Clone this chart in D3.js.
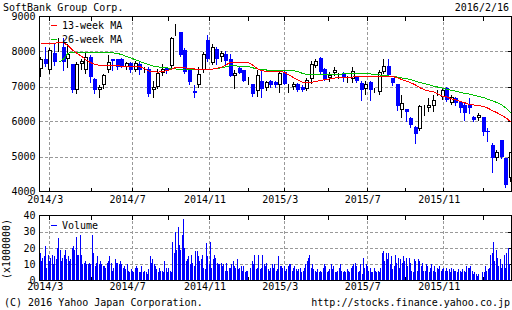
<!DOCTYPE html>
<html>
<head>
<meta charset="utf-8">
<script src="https://cdn.jsdelivr.net/npm/d3@7"></script>
<style>
  body { margin: 0; background: #fff; }
  svg { display: block; }
  text { font-family: "DejaVu Sans Mono", monospace; font-size: 10px; fill: #000; }
</style>
</head>
<body>
<div id="chart"></div>
<script>
// Weekly candles, 2014/2/17 .. 2016/2/15
const open = [7505,7790,7460,7950,8180,8120,7790,7650,6890,7650, 7460,7840,7220,6900,7030,7460,7790,7790,7790,7550,
  7670,7460,7650,7460,7500,6900,7000,7390,7520,7580, 8700,8550,8030,7500,6870,7050,7460,8340,7680,8080,
  7840,7930,7790,7290,7520,7460,7190,7080,6870,7170, 6960,7170,7120,7030,7410,7030,6980,7080,7000,6930,
  7220,7600,7810,7500,7250,7380,7300,7380,7240,7220, 7270,7100,6930,7120,6880,6840,7410,7600,7250,7080,
  6330,6350,6100,5840,5790,6420,6380,6430,6850,6700, 6960,6540,6670,6570,6480,6480,6140,6100,6140,5720,
  5330,4950,5480,4950,4380];
const high = [7840,8120,8100,8220,8380,8400,8210,7650,7700,7800, 7950,7900,7250,7050,7350,7890,7800,7800,7820,7700,
  7700,7720,7740,7550,7550,7170,7500,7650,7560,8410, 8800,8570,8100,7500,7030,7550,7980,8460,8210,8120,
  8020,8020,7930,7460,7560,7480,7270,7080,7460,7460, 7170,7200,7170,7410,7430,7080,7120,7100,7050,7240,
  7740,7790,7850,7540,7410,7560,7380,7410,7310,7560, 7310,7170,7170,7170,6960,7460,7790,7790,7250,7080,
  6760,6350,6120,5860,6480,6480,6670,6760,6910,6960, 6980,6760,6700,6600,6520,6670,6160,6240,6140,5810,
  5380,5200,5480,4950,5140];
const low = [7314,7600,7400,7620,8020,7460,7560,6840,6800,7500, 7400,7120,6820,6700,6950,7420,7460,7500,7560,7500,
  7420,7430,7360,7420,6740,6700,6950,7320,7400,7550, 8460,7880,7380,7070,6700,6980,7410,7740,7650,7650,
  7740,7650,7290,6960,7390,7170,7080,6740,6740,6700, 6900,7000,6980,6830,7060,6830,6940,6880,6880,6900,
  7100,7560,7380,7180,7170,7340,7250,7170,7130,7130, 7130,6620,6790,6620,6840,6790,7400,7310,7030,6340,
  6140,6000,5850,5380,5760,6190,6290,6290,6760,6650, 6580,6500,6480,6270,6050,6240,6000,6030,5620,5430,
  4570,4900,4950,4140,4290];
const close = [7790,7650,8030,7710,8210,7700,7930,6890,7650,7740, 7840,7270,6890,6980,7340,7700,7740,7550,7600,7670,
  7460,7670,7460,7500,6790,7000,7380,7500,7430,8380, 8720,7890,7410,7120,6810,7360,7930,7790,8120,7790,
  7960,7740,7310,7380,7390,7170,7200,6790,7340,6930, 7120,7030,7030,7380,7080,7040,7080,6900,6900,7200,
  7650,7740,7410,7220,7340,7460,7320,7250,7260,7440, 7170,6890,7080,6890,6900,7410,7600,7340,7100,6430,
  6520,6260,5900,5640,6430,6440,6480,6620,6870,6900, 6620,6710,6520,6380,6240,6380,6050,6190,5710,5700,
  4950,5140,5000,4190,5140];

// moving averages, one value per week
const ma13 = [8220,8220,8220,8240,8250,8250,8170,8040,7940,7860, 7760,7680,7630,7600,7600,7600,7600,7590,7580,7580,
  7580,7580,7560,7500,7440,7420,7410,7430,7460,7500, 7550,7540,7530,7510,7500,7500,7500,7500,7500,7520,
  7550,7620,7690,7700,7700,7700,7680,7600,7500,7450, 7430,7430,7430,7430,7400,7320,7250,7180,7120,7120,
  7120,7150,7170,7200,7220,7240,7270,7270,7270,7270, 7280,7290,7290,7290,7290,7290,7290,7290,7280,7250,
  7190,7150,7100,7040,6960,6900,6870,6850,6780,6720, 6700,6640,6610,6570,6530,6480,6470,6450,6430,6380,
  6310,6250,6180,6100,6000];
const ma26 = [null,null,null,null,7700,7780,7950,7980,7980,7980, 7980,7980,7980,7980,7980,7980,7960,7940,7910,7850,
  7810,7760,7710,7660,7620,7580,7560,7540,7530,7510, 7500,7500,7500,7490,7480,7480,7480,7480,7500,7510,
  7540,7560,7600,7590,7580,7580,7570,7530,7500,7490, 7470,7460,7460,7460,7460,7460,7450,7420,7370,7340,
  7330,7330,7330,7340,7340,7340,7350,7360,7370,7380, 7380,7380,7370,7360,7340,7330,7310,7300,7290,7270,
  7240,7220,7190,7150,7110,7080,7050,7010,6980,6950, 6920,6890,6860,6830,6800,6780,6750,6710,6690,6630,
  6590,6540,6480,6380,6250];

// daily volume (x1000000)
const volume = [17,12,14,15,21,8,16,12,14,16, 10,15,13,20,26,19,12,14,16,19, 13,15,12,13,20,21,19,27,16,16,
  28,16,10,11,12,10,10,11,10,28, 17,9,11,15,10,12,10,9,9,8, 11,12,15,11,6,8,13,11,11,10,
  12,10,8,9,7,10,6,5,7,6, 5,8,9,8,5,5,9,5,6,5, 4,7,15,11,13,10,9,7,5,8,
  6,6,5,12,8,5,8,6,5,24, 17,30,19,33,22,19,28,38,20,12, 13,15,10,16,11,9,18,18,15,12,
  13,16,8,7,23,15,10,24,8,13, 16,14,11,10,10,11,9,10,6,11, 6,8,8,10,12,9,8,13,7,8,
  9,6,9,5,6,6,0,
  8,12,10,16,7,8,16,7,8,16, 10,9,11,7,6,8,10,8,10,6, 7,15,9,9,8,9,6,7,9,10,
  10,6,8,9,7,6,7,8,5,6, 8,10,12,14,16,8,10,7,6,5, 7,5,6,5,8,10,9,5,6,7,
  10,7,9,5,5,6,8,10,6,5, 6,5,7,6,5,8,9,10,11,9, 5,6,10,4,14,8,10,9,6,8,
  5,5,8,6,5,6,5,8,17,18, 12,17,13,17,10,15,7,9,16,11, 14,8,13,11,15,12,14,9,14,11,
  6,5,13,12,6,13,12,9,11,6, 6,10,9,5,8,10,6,9,5,8, 7,9,6,7,8,6,8,6,7,5,
  8,7,6,6,5,7,6,5,7,6, 5,9,8,8,9,6,4,5,4,3, 4,0,0,5,5,9,6,7,8,16,
  17,24,12,19,14,9,13,8,10,16, 8,17,20,10];

// x ticks, as positions in weeks (every two months)
const tickWeek = [1.84, 11.07, 20.07, 28.06, 37.21, 45.85, 53.89, 63.5, 72.14, 80.62, 89.1, 97.96];
const tickLabel = ["2014/3", "", "2014/7", "", "2014/11", "", "2015/3", "", "2015/7", "", "2015/11", ""];
const priceTicks = [4000, 5000, 6000, 7000, 8000, 9000];
const volTicks = [0, 10, 20, 30, 40];

const BLUE = "#0000ff", RED = "#ff0000", GREEN = "#00c000", GRID = "#999";
const L = 39.5, R = 511.5;

const x = d3.scaleLinear().domain([0, 104]).range([41, 510.6]);
const y = d3.scaleLinear().domain([4000, 9000]).range([191.5, 16.5]);
const yv = d3.scaleLinear().domain([0, 40]).range([280.5, 215.5]);
const xv = d3.scaleLinear().domain([0, volume.length]).range([40, 511]);

const svg = d3.select("#chart").append("svg")
  .attr("width", 512).attr("height", 310)
  .attr("shape-rendering", "crispEdges");

svg.append("defs").append("clipPath").attr("id", "clipMain")
  .append("rect").attr("x", 40).attr("y", 17).attr("width", 471).attr("height", 174);

// titles
svg.append("text").attr("x", 3).attr("y", 11).text("SoftBank Group Corp.");
svg.append("text").attr("x", 509).attr("y", 11).attr("text-anchor", "end").text("2016/2/16");

// panel frame + grid + ticks
function panel(yTop, yBot, yScale, gridVals) {
  const g = svg.append("g");
  // horizontal grid
  g.selectAll(".hg").data(gridVals).join("line")
    .attr("x1", L).attr("x2", R)
    .attr("y1", d => Math.round(yScale(d)) + 0.5).attr("y2", d => Math.round(yScale(d)) + 0.5)
    .attr("stroke", GRID).attr("stroke-dasharray", "3,2");
  // vertical grid at labelled ticks
  const labelled = tickWeek.filter((d, i) => tickLabel[i] !== "");
  g.selectAll(".vg").data(labelled).join("line")
    .attr("x1", d => Math.round(x(d)) + 0.5).attr("x2", d => Math.round(x(d)) + 0.5)
    .attr("y1", yTop).attr("y2", yBot)
    .attr("stroke", GRID).attr("stroke-dasharray", "3,2");
  // inner ticks top & bottom
  tickWeek.forEach(d => {
    const xx = Math.round(x(d)) + 0.5;
    g.append("line").attr("x1", xx).attr("x2", xx).attr("y1", yTop).attr("y2", yTop + 4).attr("stroke", "#000");
    g.append("line").attr("x1", xx).attr("x2", xx).attr("y1", yBot - 4).attr("y2", yBot).attr("stroke", "#000");
  });
  // inner ticks right side
  gridVals.forEach(d => {
    const yy = Math.round(yScale(d)) + 0.5;
    g.append("line").attr("x1", R - 4).attr("x2", R).attr("y1", yy).attr("y2", yy).attr("stroke", "#000");
  });
  return g;
}

panel(16.5, 191.5, y, [5000, 6000, 7000, 8000]);
panel(215.5, 280.5, yv, [10, 20, 30]);

// candles
const weeks = d3.range(open.length);
const cg = svg.append("g").attr("clip-path", "url(#clipMain)");
cg.selectAll(".wick").data(weeks).join("line")
  .attr("x1", k => Math.round(x(k)) - 0.5).attr("x2", k => Math.round(x(k)) - 0.5)
  .attr("y1", k => Math.round(y(high[k]))).attr("y2", k => Math.round(y(low[k])) + 1)
  .attr("stroke", k => close[k] >= open[k] ? "#000" : BLUE);
cg.selectAll(".body").data(weeks).join("rect")
  .each(function (k) {
    const cx = Math.round(x(k));
    const top = Math.round(y(Math.max(open[k], close[k])));
    const bot = Math.round(y(Math.min(open[k], close[k])));
    const h = Math.max(1, bot - top);
    const r = d3.select(this);
    if (close[k] >= open[k]) {
      r.attr("x", cx - 1.5).attr("width", 3).attr("y", top + 0.5).attr("height", Math.max(0, h - 1))
        .attr("fill", "#fff").attr("stroke", "#000");
    } else {
      r.attr("x", cx - 2).attr("width", 4).attr("y", top).attr("height", h).attr("fill", BLUE);
    }
  });

// moving averages
const lineFor = arr => d3.line()
  .defined(k => arr[k] !== null)
  .x(k => x(k)).y(k => y(arr[k]));
cg.append("path").attr("d", lineFor(ma26)(weeks)).attr("fill", "none").attr("stroke", GREEN);
cg.append("path").attr("d", lineFor(ma13)(weeks)).attr("fill", "none").attr("stroke", RED);

// volume bars
svg.append("g").selectAll("rect").data(volume).join("rect")
  .attr("x", (d, i) => Math.floor(xv(i)))
  .attr("width", 1)
  .attr("y", d => Math.round(yv(d)))
  .attr("height", d => Math.round(yv(0)) - Math.round(yv(d)))
  .attr("fill", BLUE);

// frames
svg.append("rect").attr("x", L).attr("y", 16.5).attr("width", R - L).attr("height", 175)
  .attr("fill", "none").attr("stroke", "#000");
svg.append("rect").attr("x", L).attr("y", 215.5).attr("width", R - L).attr("height", 65)
  .attr("fill", "none").attr("stroke", "#000");

// y axes labels
const ay = svg.append("g").attr("transform", `translate(${L},0)`)
  .call(d3.axisLeft(y).tickValues(priceTicks).tickSize(0).tickPadding(4).tickFormat(d3.format("d")));
const av = svg.append("g").attr("transform", `translate(${L},0)`)
  .call(d3.axisLeft(yv).tickValues(volTicks).tickSize(0).tickPadding(4).tickFormat(d3.format("d")));
[ay, av].forEach(a => {
  a.select(".domain").remove();
  a.attr("font-family", null).attr("font-size", null);
  a.selectAll("text").attr("fill", "#000");
});

// x labels
const labels = tickWeek.map((d, i) => ({ w: d, t: tickLabel[i] })).filter(d => d.t !== "");
[203, 290].forEach(by => {
  svg.append("g").selectAll("text").data(labels).join("text")
    .attr("x", d => x(d.w) - 4).attr("y", by)
    .attr("text-anchor", "middle").text(d => d.t);
});

// legends
svg.append("line").attr("x1", 51).attr("x2", 57).attr("y1", 25.5).attr("y2", 25.5).attr("stroke", RED);
svg.append("text").attr("x", 62).attr("y", 29).text("13-week MA");
svg.append("line").attr("x1", 51).attr("x2", 57).attr("y1", 39.5).attr("y2", 39.5).attr("stroke", GREEN);
svg.append("text").attr("x", 62).attr("y", 43).text("26-week MA");
svg.append("line").attr("x1", 51).attr("x2", 57).attr("y1", 225.5).attr("y2", 225.5).attr("stroke", BLUE);
svg.append("text").attr("x", 62).attr("y", 229).text("Volume");

svg.append("text").attr("transform", "translate(10,249) rotate(-90)")
  .attr("text-anchor", "middle").text("(x1000000)");

// footer
svg.append("text").attr("x", 4).attr("y", 306).text("(C) 2016 Yahoo Japan Corporation.");
svg.append("text").attr("x", 510).attr("y", 306).attr("text-anchor", "end").text("http://stocks.finance.yahoo.co.jp");
</script>
</body>
</html>
